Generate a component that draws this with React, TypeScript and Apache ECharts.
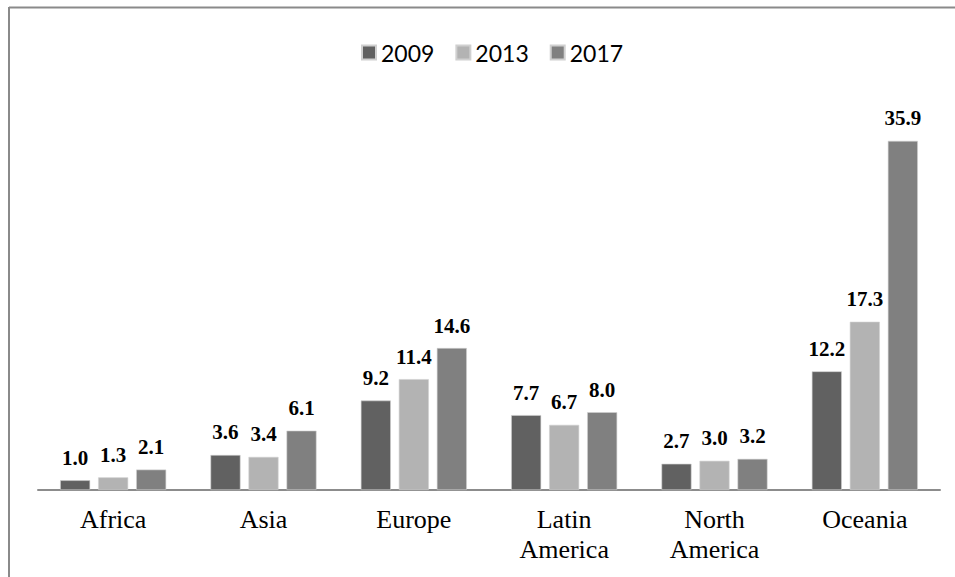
import React, { useEffect, useRef } from "react";
import * as echarts from "echarts";

// Regions shown along the horizontal axis
const categories = ["Africa", "Asia", "Europe", "Latin\nAmerica", "North\nAmerica", "Oceania"];

// Values per survey year
const years = ["2009", "2013", "2017"];
const values2009 = [1.0, 3.6, 9.2, 7.7, 2.7, 12.2];
const values2013 = [1.3, 3.4, 11.4, 6.7, 3.0, 17.3];
const values2017 = [2.1, 6.1, 14.6, 8.0, 3.2, 35.9];

const seriesColors = ["#616161", "#b3b3b3", "#808080"];

export default function App() {
  const ref = useRef<HTMLDivElement>(null);

  useEffect(() => {
    if (!ref.current) return;
    const chart = echarts.init(ref.current, undefined, { renderer: "svg" });
    const seriesData = [values2009, values2013, values2017];

    chart.setOption({
      animation: false,
      backgroundColor: "#ffffff",
      legend: {
        top: 36,
        left: 356,
        itemWidth: 14,
        itemHeight: 14,
        itemGap: 21,
        icon: "rect",
        textStyle: { fontFamily: "Lato", fontSize: 23, color: "#000000" },
        data: years,
      },
      grid: { left: 38, right: 15, top: 101, bottom: 87, containLabel: false },
      xAxis: {
        type: "category",
        data: categories,
        axisLine: { show: true, lineStyle: { color: "#8c8c8c", width: 2 } },
        axisTick: { show: false },
        axisLabel: {
          fontFamily: "Liberation Serif",
          fontSize: 26,
          lineHeight: 30,
          color: "#000000",
          margin: 14,
          interval: 0,
        },
      },
      yAxis: {
        type: "value",
        min: 0,
        max: 40,
        show: false,
        splitLine: { show: false },
      },
      graphic: [
        {
          type: "line",
          shape: { x1: 9, y1: 7.5, x2: 955, y2: 7.5 },
          style: { stroke: "#8a8a8a", lineWidth: 2 },
        },
        {
          type: "line",
          shape: { x1: 9, y1: 7, x2: 9, y2: 577 },
          style: { stroke: "#8a8a8a", lineWidth: 2 },
        },
      ],
      series: years.map((y, i) => ({
        name: y,
        type: "bar",
        data: seriesData[i],
        barWidth: 30,
        barGap: "26.7%",
        itemStyle: { color: seriesColors[i], borderColor: "#d0d0d0", borderWidth: 0.6 },
        label: {
          show: true,
          position: "top",
          distance: 12,
          fontFamily: "Liberation Serif",
          fontWeight: "bold",
          fontSize: 21,
          color: "#000000",
          formatter: (p: any) => Number(p.value).toFixed(1),
        },
      })),
    });

    return () => chart.dispose();
  }, []);

  return (
    <div
      ref={ref}
      style={{ position: "fixed", left: 0, top: 0, width: 955, height: 577 }}
    />
  );
}
